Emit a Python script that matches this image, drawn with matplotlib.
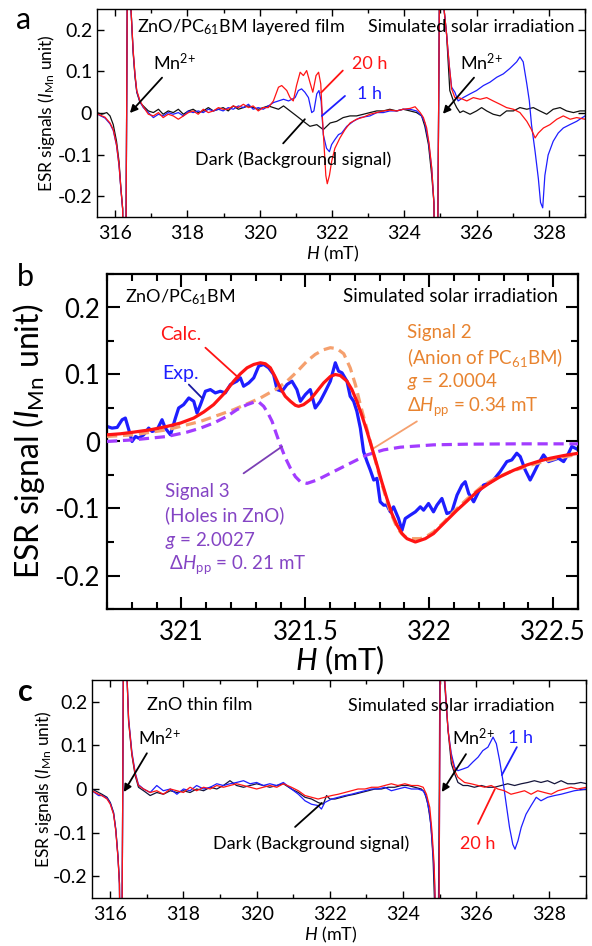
import numpy as np
import matplotlib
matplotlib.use('Agg')
import matplotlib.pyplot as plt
from matplotlib.ticker import MultipleLocator, FuncFormatter

plt.rcParams['font.family'] = ['Lato', 'DejaVu Sans']
plt.rcParams['mathtext.fontset'] = 'custom'
plt.rcParams['mathtext.rm'] = 'Lato'
plt.rcParams['mathtext.it'] = 'Lato:italic'
plt.rcParams['mathtext.bf'] = 'Lato:bold'
plt.rcParams['axes.unicode_minus'] = False

# ---------------- Panel a data (ZnO/PC61BM layered film) ----------------
a_20h_H = [315.50, 315.58, 315.72, 315.86, 315.95, 316.04, 316.11, 316.16, 316.21, 316.24, 316.29, 316.32, 316.35, 316.41, 316.44, 316.50, 316.55, 316.60, 316.69, 316.78,
           316.92, 317.06, 317.20, 317.33, 317.47, 317.61, 317.75, 317.89, 318.03, 318.16, 318.30, 318.44, 318.58, 318.72, 318.86, 318.99, 319.13, 319.27, 319.41, 319.55,
           319.69, 319.82, 319.96, 320.10, 320.24, 320.38, 320.52, 320.61, 320.75, 320.84, 320.93, 321.02, 321.12, 321.21, 321.30, 321.39, 321.47, 321.56, 321.63, 321.69,
           321.73, 321.78, 321.83, 321.87, 321.93, 321.99, 322.08, 322.22, 322.36, 322.50, 322.68, 322.87, 323.05, 323.24, 323.42, 323.60, 323.79, 323.97, 324.16, 324.30,
           324.44, 324.53, 324.62, 324.69, 324.76, 324.82, 324.86, 324.91, 324.95, 324.99, 325.06, 325.10, 325.17, 325.25, 325.31, 325.40, 325.54, 325.73, 325.91, 326.10,
           326.28, 326.46, 326.65, 326.83, 327.02, 327.20, 327.39, 327.52, 327.62, 327.71, 327.85, 328.03, 328.22, 328.40, 328.59, 328.77, 329.00]
a_20h_v = [-0.002, -0.005, -0.010, -0.024, -0.040, -0.076, -0.125, -0.180, -0.230, -0.50, -0.50, 0.00, 0.50, 0.50, 0.25, 0.151, 0.094, 0.054, 0.029, 0.015,
           -0.003, -0.007, 0.001, -0.011, -0.003, -0.007, -0.015, -0.007, 0.001, 0.005, -0.003, 0.009, 0.001, 0.005, 0.013, 0.009, 0.009, 0.017, 0.013, 0.021,
           0.013, 0.017, 0.005, 0.013, 0.013, 0.029, 0.062, 0.066, 0.054, 0.037, 0.029, 0.066, 0.098, 0.090, 0.102, 0.074, 0.050, 0.090, 0.098, 0.070,
           -0.003, -0.076, -0.150, -0.170, -0.150, -0.117, -0.085, -0.060, -0.040, -0.024, -0.015, -0.010, -0.003, 0.001, 0.005, 0.007, 0.005, 0.009, 0.011, 0.015,
           0.001, -0.011, -0.036, -0.076, -0.133, -0.215, -0.50, -0.50, 0.00, 0.50, 0.50, 0.25, 0.190, 0.110, 0.058, 0.037, 0.036, 0.029, 0.037, 0.033,
           0.037, 0.029, 0.021, 0.013, 0.009, 0.001, -0.020, -0.040, -0.060, -0.048, -0.036, -0.028, -0.015, -0.007, -0.015, -0.011, -0.015]

a_1h_H = [315.50, 315.58, 315.72, 315.86, 315.95, 316.04, 316.11, 316.16, 316.21, 316.24, 316.29, 316.32, 316.35, 316.41, 316.44, 316.50, 316.55, 316.60, 316.69, 316.78,
          316.92, 317.06, 317.20, 317.33, 317.47, 317.61, 317.75, 317.89, 318.03, 318.16, 318.30, 318.44, 318.58, 318.72, 318.86, 318.99, 319.13, 319.27, 319.41, 319.55,
          319.69, 319.82, 319.96, 320.10, 320.24, 320.38, 320.52, 320.66, 320.80,
          320.98, 321.07, 321.16, 321.25, 321.35, 321.44, 321.50, 321.58, 321.64, 321.70, 321.76, 321.85, 321.93, 321.99, 322.08, 322.18, 322.27, 322.41, 322.59, 322.78,
          323.05, 323.24, 323.42, 323.60, 323.79, 323.97, 324.16, 324.34, 324.48, 324.57, 324.67, 324.76, 324.82, 324.86, 324.91, 324.95, 324.99, 325.06, 325.10,
          325.17, 325.25, 325.31, 325.40, 325.49, 325.63, 325.82, 326.00, 326.19, 326.37, 326.56, 326.74, 326.92, 327.11, 327.20, 327.29, 327.39, 327.46, 327.52, 327.62,
          327.71, 327.77, 327.83, 327.89, 327.98, 328.12, 328.26, 328.40, 328.58, 328.77, 329.00]
a_1h_v = [-0.002, -0.006, -0.012, -0.026, -0.042, -0.078, -0.127, -0.182, -0.232, -0.50, -0.50, 0.00, 0.50, 0.50, 0.25, 0.148, 0.092, 0.052, 0.027, 0.013,
          0.001, -0.011, -0.003, -0.007, 0.001, -0.003, 0.001, -0.007, 0.005, 0.001, 0.005, 0.001, 0.009, 0.005, 0.009, 0.005, 0.013, 0.009, 0.017, 0.013,
          0.021, 0.009, 0.013, 0.009, 0.017, 0.025, 0.029, 0.033, 0.029,
          0.037, 0.054, 0.058, 0.050, 0.037, 0.001, 0.005, 0.046, 0.054, 0.029, -0.052, -0.085, -0.093, -0.076, -0.064, -0.052, -0.048, -0.032, -0.020, -0.011,
          -0.007, 0.001, 0.001, 0.005, 0.005, 0.009, 0.009, 0.005, -0.007, -0.024, -0.068, -0.133, -0.215, -0.50, -0.50, 0.00, 0.50, 0.50, 0.25,
          0.190, 0.110, 0.062, 0.050, 0.029, 0.037, 0.046, 0.054, 0.066, 0.074, 0.086, 0.094, 0.107, 0.123, 0.135, 0.123, 0.070, 0.029, -0.028, -0.093,
          -0.158, -0.215, -0.228, -0.150, -0.101, -0.068, -0.048, -0.036, -0.028, -0.020, -0.007]

a_dark_H = [315.50, 315.63, 315.77, 315.86, 315.95, 316.04, 316.11, 316.16, 316.21, 316.24, 316.29, 316.32, 316.35, 316.41, 316.44, 316.50, 316.55, 316.60, 316.69, 316.78,
            316.92, 317.06, 317.20, 317.33, 317.47, 317.61, 317.75, 317.89, 318.03, 318.16, 318.30, 318.44, 318.58, 318.72, 318.86, 318.99, 319.13, 319.27, 319.41, 319.55,
            319.69, 319.82, 319.96, 320.10, 320.24, 320.38, 320.52, 320.66,
            320.84, 321.02, 321.21, 321.39, 321.58, 321.76, 321.95, 322.13, 322.31, 322.50, 322.68, 322.87, 323.05, 323.24, 323.42, 323.60, 323.79, 323.97, 324.16, 324.34,
            324.48, 324.57, 324.67, 324.76, 324.82, 324.86, 324.91, 324.95, 324.99, 325.06, 325.10,
            325.17, 325.26, 325.36, 325.45, 325.54, 325.63, 325.82, 326.00, 326.14, 326.28, 326.46, 326.65, 326.83, 327.02, 327.20, 327.39, 327.57, 327.75, 327.94, 328.12,
            328.31, 328.49, 328.68, 328.86, 329.00]
a_dark_v = [0.001, -0.003, 0.001, -0.007, -0.028, -0.068, -0.117, -0.180, -0.230, -0.50, -0.50, 0.00, 0.50, 0.50, 0.25, 0.145, 0.088, 0.050, 0.025, 0.017,
            0.005, 0.001, 0.009, -0.003, 0.005, 0.001, 0.009, -0.003, 0.005, 0.009, 0.001, 0.005, 0.013, 0.005, 0.009, 0.013, 0.005, 0.017, 0.009, 0.013,
            0.017, 0.013, 0.009, 0.013, 0.017, 0.013, 0.009, 0.017,
            0.005, -0.007, -0.020, -0.032, -0.028, -0.040, -0.024, -0.020, -0.011, -0.007, -0.007, -0.003, 0.001, 0.005, 0.005, 0.009, 0.005, 0.009, 0.005, 0.001,
            -0.007, -0.032, -0.076, -0.150, -0.215, -0.50, -0.50, 0.00, 0.50, 0.50, 0.25,
            0.190, 0.054, 0.029, 0.013, 0.001, 0.005, -0.003, 0.005, 0.013, 0.005, -0.003, -0.007, 0.005, 0.005, 0.013, 0.009, 0.013, 0.005, -0.003, 0.009,
            0.013, 0.005, 0.001, 0.005, 0.005]

# ---------------- Panel b data (zoom, fit) ----------------
b_exp_H = [320.700, 320.720, 320.741, 320.761, 320.774, 320.788, 320.801, 320.815, 320.828, 320.848,
           320.868, 320.882, 320.902, 320.922, 320.935, 320.956, 320.976, 320.989, 321.009, 321.030,
           321.050, 321.063, 321.077, 321.097, 321.117, 321.137, 321.157, 321.177, 321.198, 321.224,
           321.238, 321.251, 321.272, 321.292, 321.312, 321.332, 321.352, 321.372, 321.386, 321.406,
           321.426, 321.446, 321.466, 321.480, 321.500, 321.520, 321.540, 321.560, 321.581, 321.601,
           321.621, 321.634, 321.648, 321.668, 321.681, 321.695, 321.708, 321.722, 321.735, 321.749,
           321.762, 321.776, 321.789, 321.802, 321.816, 321.829, 321.843, 321.856, 321.876, 321.890,
           321.903, 321.923, 321.944, 321.964, 321.977, 321.997, 322.017, 322.031, 322.051, 322.071,
           322.091, 322.112, 322.132, 322.145, 322.159, 322.179, 322.199, 322.219, 322.239, 322.259,
           322.286, 322.313, 322.333, 322.353, 322.367, 322.387, 322.407, 322.421, 322.441, 322.461,
           322.481, 322.501, 322.521, 322.542, 322.562, 322.575, 322.589, 322.602]
b_exp_v = [0.0225, 0.020, 0.021, 0.0325, 0.035, 0.0175, 0.000, 0.0075, 0.005, 0.010,
           0.020, 0.015, 0.0175, 0.0325, 0.020, 0.010, 0.035, 0.050, 0.055, 0.065,
           0.060, 0.0425, 0.055, 0.075, 0.0775, 0.0725, 0.075, 0.0725, 0.085, 0.090,
           0.095, 0.0825, 0.0875, 0.095, 0.1125, 0.115, 0.110, 0.100, 0.0775, 0.075,
           0.085, 0.090, 0.0775, 0.060, 0.070, 0.0775, 0.050, 0.060, 0.075, 0.090,
           0.1175, 0.105, 0.1025, 0.090, 0.0675, 0.060, 0.045, 0.020, -0.015, -0.030,
           -0.0425, -0.0575, -0.055, -0.090, -0.095, -0.095, -0.105, -0.0975, -0.115, -0.1325,
           -0.115, -0.110, -0.105, -0.0975, -0.1025, -0.0925, -0.105, -0.095, -0.085, -0.1075,
           -0.105, -0.080, -0.065, -0.060, -0.0775, -0.090, -0.075, -0.065, -0.0625, -0.0575,
           -0.045, -0.030, -0.0275, -0.0175, -0.0225, -0.0425, -0.0575, -0.0475, -0.0325, -0.020,
           -0.030, -0.0275, -0.025, -0.030, -0.0175, -0.0075, -0.010, -0.0125]

b_calc_H = [320.700, 320.754, 320.808, 320.875, 320.942, 320.996, 321.050, 321.090, 321.130, 321.171,
            321.211, 321.238, 321.265, 321.292, 321.319, 321.339, 321.359, 321.379, 321.399, 321.419,
            321.440, 321.460, 321.473, 321.493, 321.520, 321.547, 321.574, 321.601, 321.621, 321.641,
            321.668, 321.688, 321.708, 321.728, 321.749, 321.769, 321.789, 321.809, 321.829, 321.849,
            321.870, 321.890, 321.910, 321.944, 321.984, 322.017, 322.044, 322.078, 322.112, 322.152,
            322.192, 322.239, 322.286, 322.340, 322.394, 322.441, 322.488, 322.542, 322.602]
b_calc_v = [0.010, 0.0115, 0.014, 0.0175, 0.0225, 0.0275, 0.035, 0.044, 0.055, 0.071,
            0.090, 0.101, 0.110, 0.115, 0.1175, 0.116, 0.110, 0.096, 0.080, 0.0675,
            0.060, 0.054, 0.0525, 0.055, 0.0625, 0.075, 0.0875, 0.097, 0.100, 0.0985,
            0.090, 0.0775, 0.060, 0.039, 0.015, -0.010, -0.035, -0.061, -0.085, -0.1075,
            -0.125, -0.1375, -0.145, -0.150, -0.145, -0.1375, -0.1275, -0.115, -0.1025, -0.089,
            -0.075, -0.063, -0.0525, -0.043, -0.035, -0.0295, -0.025, -0.021, -0.0175]

b_sig2_H = [320.700, 320.808, 320.942, 321.077, 321.211, 321.319, 321.386, 321.426, 321.466, 321.507,
            321.540, 321.574, 321.601, 321.628, 321.655, 321.681, 321.702, 321.722, 321.742, 321.762,
            321.782, 321.802, 321.823, 321.843, 321.863, 321.883, 321.903, 321.923, 321.964, 321.991,
            322.017, 322.058, 322.098, 322.152, 322.219, 322.273, 322.327, 322.421, 322.515, 322.602]
b_sig2_v = [0.0075, 0.010, 0.0175, 0.030, 0.0475, 0.065, 0.079, 0.090, 0.104, 0.120,
            0.130, 0.137, 0.140, 0.1385, 0.131, 0.110, 0.085, 0.055, 0.0275, 0.000,
            -0.0275, -0.055, -0.081, -0.105, -0.1225, -0.135, -0.1425, -0.145, -0.145, -0.141,
            -0.135, -0.121, -0.105, -0.086, -0.065, -0.054, -0.045, -0.034, -0.025, -0.019]

b_sig3_H = [320.700, 320.808, 320.942, 321.023, 321.077, 321.130, 321.184, 321.224, 321.265, 321.292,
            321.312, 321.332, 321.349, 321.366, 321.382, 321.399, 321.419, 321.440, 321.460, 321.480,
            321.507, 321.547, 321.614, 321.681, 321.749, 321.816, 321.883, 322.017, 322.152, 322.353, 322.602]
b_sig3_v = [0.000, 0.0025, 0.0075, 0.014, 0.020, 0.0275, 0.0375, 0.0475, 0.055, 0.0585,
            0.059, 0.0525, 0.0425, 0.030, 0.0125, -0.005, -0.024, -0.040, -0.0525, -0.060,
            -0.0625, -0.0575, -0.045, -0.0325, -0.020, -0.0125, -0.0085, -0.005, -0.004, -0.0035, -0.0035]

# ---------------- Panel c data (ZnO thin film) ----------------
c_20h_H = [315.50, 315.68, 315.77, 315.91, 316.00, 316.09, 316.15, 316.21, 316.25, 316.28, 316.31, 316.34, 316.37, 316.43, 316.46, 316.50, 316.59, 316.68, 316.77, 316.91,
           317.09, 317.27, 317.45, 317.64, 317.82, 318.00, 318.18, 318.36, 318.55, 318.73, 318.91, 319.09, 319.27, 319.45, 319.64, 319.82, 320.00, 320.18, 320.36, 320.55, 320.73,
           320.95, 321.14, 321.32, 321.50, 321.68, 321.86, 322.05, 322.23, 322.41, 322.59, 322.77, 322.96, 323.14, 323.32, 323.50, 323.68, 323.86, 324.05, 324.23, 324.41,
           324.55, 324.64, 324.73, 324.79, 324.85, 324.88, 324.92, 324.97, 325.00, 325.03, 325.10, 325.14,
           325.23, 325.32, 325.41, 325.50, 325.68, 325.86, 326.05, 326.23, 326.41, 326.59, 326.77, 326.95, 327.14, 327.32, 327.50, 327.68, 327.86, 328.05, 328.23, 328.41,
           328.59, 328.77, 329.02]
c_20h_v = [-0.004, -0.012, -0.015, -0.023, -0.035, -0.058, -0.096, -0.158, -0.219, -0.50, -0.50, 0.00, 0.50, 0.50, 0.25, 0.158, 0.081, 0.035, 0.008, 0.000,
           -0.008, -0.004, -0.012, 0.000, -0.004, -0.008, 0.004, -0.004, 0.004, 0.000, 0.008, 0.004, 0.008, 0.012, 0.008, 0.004, 0.000, 0.004, 0.008, 0.004, 0.012,
           0.004, -0.004, -0.015, -0.019, -0.023, -0.019, -0.015, -0.012, -0.008, -0.004, 0.000, 0.000, 0.004, 0.004, 0.008, 0.012, 0.008, 0.012, 0.008, 0.008,
           0.004, -0.012, -0.042, -0.096, -0.173, -0.258, -0.50, -0.50, 0.00, 0.50, 0.50, 0.25,
           0.135, 0.073, 0.042, 0.027, 0.015, 0.012, 0.008, 0.004, 0.008, 0.000, -0.004, -0.012, -0.008, -0.004, -0.012, -0.004, -0.008, -0.012, -0.004, 0.000,
           0.004, 0.000, 0.004]

c_1h_H = [315.50, 315.68, 315.77, 315.91, 316.00, 316.09, 316.15, 316.21, 316.25, 316.28, 316.31, 316.34, 316.37, 316.43, 316.46, 316.50, 316.59, 316.68, 316.77, 316.91,
          317.09, 317.27, 317.45, 317.64, 317.82, 318.00, 318.18, 318.36, 318.55, 318.73, 318.91, 319.09, 319.27, 319.45, 319.64, 319.82, 320.00, 320.18, 320.36, 320.55, 320.73,
          320.95, 321.14, 321.32, 321.50, 321.68, 321.77, 321.86, 322.05, 322.23, 322.41, 322.59, 322.77, 322.96, 323.14, 323.32, 323.50, 323.68, 323.86, 324.05, 324.23,
          324.41, 324.55, 324.64, 324.73, 324.79, 324.85, 324.88, 324.92, 324.97, 325.00, 325.03, 325.10, 325.14,
          325.23, 325.32, 325.41, 325.50, 325.64, 325.77, 325.91, 326.05, 326.18, 326.32, 326.46, 326.55, 326.64, 326.73, 326.82, 326.91, 327.00, 327.06, 327.14, 327.23,
          327.36, 327.50, 327.64, 327.77, 327.95, 328.14, 328.32, 328.50, 328.68, 329.02]
c_1h_v = [-0.004, -0.015, -0.015, -0.021, -0.033, -0.056, -0.094, -0.156, -0.217, -0.50, -0.50, 0.00, 0.50, 0.50, 0.25, 0.162, 0.085, 0.038, 0.010, 0.000,
          -0.008, 0.008, -0.004, 0.000, -0.012, 0.000, -0.004, 0.008, 0.000, 0.004, 0.012, 0.008, 0.012, 0.015, 0.019, 0.012, 0.015, 0.008, 0.012, 0.008, 0.015,
          0.000, -0.012, -0.027, -0.035, -0.038, -0.046, -0.031, -0.023, -0.019, -0.015, -0.012, -0.008, -0.004, 0.000, 0.000, 0.004, -0.004, 0.000, 0.004, 0.000,
          0.000, -0.004, -0.019, -0.058, -0.112, -0.188, -0.258, -0.50, -0.50, 0.00, 0.50, 0.50, 0.25,
          0.135, 0.081, 0.050, 0.042, 0.046, 0.050, 0.062, 0.073, 0.088, 0.096, 0.119, 0.104, 0.065, 0.019, -0.035, -0.088, -0.127, -0.138, -0.119, -0.088,
          -0.058, -0.038, -0.019, -0.027, -0.019, -0.015, -0.012, -0.008, -0.004, 0.000]

c_dark_H = [315.50, 315.68, 315.77, 315.91, 316.00, 316.09, 316.15, 316.21, 316.25, 316.28, 316.31, 316.34, 316.37, 316.43, 316.46, 316.50, 316.59, 316.68, 316.77, 316.91,
            317.09, 317.27, 317.45, 317.64, 317.82, 318.00, 318.18, 318.36, 318.55, 318.73, 318.91, 319.09, 319.27, 319.45, 319.64, 319.82, 320.00, 320.18, 320.36, 320.55, 320.73,
            320.95, 321.14, 321.32, 321.50, 321.68, 321.82, 321.91, 322.00, 322.14, 322.32, 322.50, 322.68, 322.86, 323.05, 323.23, 323.41, 323.59, 323.77, 323.95, 324.14,
            324.32, 324.50, 324.59, 324.68, 324.76, 324.82, 324.86, 324.90, 324.95, 324.99, 325.02, 325.09, 325.13,
            325.23, 325.32, 325.41, 325.50, 325.64, 325.77, 325.95, 326.14, 326.32, 326.50, 326.68, 326.86, 327.05, 327.23, 327.41, 327.59, 327.77, 327.95, 328.14, 328.32,
            328.50, 328.68, 328.86, 329.02]
c_dark_v = [0.000, -0.008, -0.012, -0.019, -0.031, -0.054, -0.092, -0.154, -0.215, -0.50, -0.50, 0.00, 0.50, 0.50, 0.25, 0.155, 0.078, 0.031, 0.004, -0.004,
            -0.015, -0.008, -0.012, -0.004, -0.008, -0.004, -0.008, 0.000, -0.004, 0.004, 0.000, 0.008, 0.019, 0.008, 0.004, 0.008, 0.012, 0.008, 0.004, 0.008, 0.012,
            0.000, -0.008, -0.019, -0.023, -0.031, -0.035, -0.015, -0.023, -0.023, -0.019, -0.015, -0.012, -0.008, -0.004, 0.000, 0.000, 0.004, 0.004, 0.008, 0.008,
            0.004, 0.000, -0.008, -0.035, -0.081, -0.158, -0.258, -0.50, -0.50, 0.00, 0.50, 0.50, 0.25,
            0.135, 0.058, 0.035, 0.015, 0.008, 0.008, 0.004, 0.008, 0.004, 0.004, 0.008, 0.012, 0.008, 0.012, 0.015, 0.019, 0.015, 0.019, 0.012, 0.019,
            0.012, 0.012, 0.015, 0.012]

# ---------------- colours ----------------
RED = '#ff1414'
BLUE = '#1e1eff'
BLACK = '#111111'
ORANGE_TXT = '#e8832f'
ORANGE_LN = '#f5a06e'
PURPLE_TXT = '#8444c4'
PURPLE_LN = '#a23cff'

MN = r'Mn$^{2{+}}$'

def fmt_y(v, p):
    if abs(v) < 1e-9:
        return '0'
    return '%.1f' % v

def fmt_x(v, p):
    return '%g' % round(v, 3)

W, H = 592, 946
fig = plt.figure(figsize=(W / 100, H / 100), dpi=100)

def box(l, r, t, b):
    return [l / W, 1 - b / H, (r - l) / W, (b - t) / H]

def style_small(ax):
    ax.set_xlim(315.5, 329.0)
    ax.set_ylim(-0.25, 0.25)
    ax.xaxis.set_major_locator(MultipleLocator(2))
    ax.xaxis.set_minor_locator(MultipleLocator(1))
    ax.yaxis.set_major_locator(MultipleLocator(0.1))
    ax.yaxis.set_major_formatter(FuncFormatter(fmt_y))
    ax.xaxis.set_major_formatter(FuncFormatter(fmt_x))
    ax.tick_params(which='both', direction='in', top=True, right=True, width=1.0, labelsize=14)
    ax.tick_params(which='major', length=5)
    ax.tick_params(which='minor', length=3)
    ax.tick_params(axis='x', pad=6)
    ax.tick_params(axis='y', pad=3.5)
    for s in ax.spines.values():
        s.set_linewidth(1.0)
    ax.set_xlabel(r'$\mathit{H}$ (mT)', fontsize=13)
    ax.set_ylabel(r'ESR signals ($\mathit{I}_{\mathrm{Mn}}$ unit)', fontsize=12.5)

def leader(ax, p0, p1, color, lw=1.3, arrow=False):
    if arrow:
        ax.annotate('', xy=p1, xytext=p0,
                    arrowprops=dict(arrowstyle='-|>', color=color, lw=lw, mutation_scale=11, shrinkA=0, shrinkB=0))
    else:
        ax.annotate('', xy=p1, xytext=p0,
                    arrowprops=dict(arrowstyle='-', color=color, lw=lw, shrinkA=0, shrinkB=0))

# ================= Panel a =================
axa = fig.add_axes(box(97, 585, 9, 217))
axa.plot(a_dark_H, a_dark_v, color=BLACK, lw=0.9)
axa.plot(a_1h_H, a_1h_v, color=BLUE, lw=0.9)
axa.plot(a_20h_H, a_20h_v, color=RED, lw=0.9)
style_small(axa)
axa.xaxis.set_label_coords(0.484, -0.13)
axa.yaxis.set_label_coords(-0.082, 0.5)
axa.text(316.61, 0.207, r'ZnO/PC$_{61}$BM layered film', fontsize=13, ha='left', va='center')
axa.text(328.72, 0.207, 'Simulated solar irradiation', fontsize=13, ha='right', va='center')
axa.text(317.05, 0.122, MN, fontsize=13, ha='left', va='center')
leader(axa, (317.30, 0.085), (316.41, 0.0), 'k', arrow=True)
axa.text(325.54, 0.122, MN, fontsize=13, ha='left', va='center')
leader(axa, (325.93, 0.085), (325.07, -0.002), 'k', arrow=True)
axa.text(322.55, 0.117, '20 h', fontsize=13, color=RED, ha='left', va='center')
leader(axa, (322.30, 0.102), (321.70, 0.049), RED)
axa.text(322.69, 0.046, '1 h', fontsize=13, color=BLUE, ha='left', va='center')
leader(axa, (322.36, 0.041), (321.72, -0.007), BLUE)
axa.text(318.21, -0.113, 'Dark (Background signal)', fontsize=13, ha='left', va='center')
leader(axa, (320.65, -0.073), (321.25, -0.015), 'k')

# ================= Panel b =================
axb = fig.add_axes(box(107, 578, 274, 609))
axb.plot(b_exp_H, b_exp_v, color=BLUE, lw=2.3, zorder=2)
axb.plot(b_sig2_H, b_sig2_v, color=ORANGE_LN, lw=2.3, dashes=(3.2, 1.8), zorder=3)
axb.plot(b_sig3_H, b_sig3_v, color=PURPLE_LN, lw=2.3, dashes=(3.2, 1.8), zorder=3)
axb.plot(b_calc_H, b_calc_v, color=RED, lw=2.3, zorder=4)
axb.set_xlim(320.7, 322.6)
axb.set_ylim(-0.25, 0.25)
axb.xaxis.set_major_locator(MultipleLocator(0.5))
axb.xaxis.set_minor_locator(MultipleLocator(0.1))
axb.yaxis.set_major_locator(MultipleLocator(0.1))
axb.yaxis.set_minor_locator(MultipleLocator(0.05))
axb.yaxis.set_major_formatter(FuncFormatter(fmt_y))
axb.xaxis.set_major_formatter(FuncFormatter(fmt_x))
axb.tick_params(which='both', direction='in', top=True, right=True, width=1.5, labelsize=18.5)
axb.tick_params(which='major', length=9)
axb.tick_params(which='minor', length=5)
axb.tick_params(axis='x', pad=8)
axb.tick_params(axis='y', pad=5)
for s in axb.spines.values():
    s.set_linewidth(1.6)
axb.set_xlabel(r'$\mathit{H}$ (mT)', fontsize=22)
axb.set_ylabel(r'ESR signal ($\mathit{I}_{\mathrm{Mn}}$ unit)', fontsize=23)
axb.xaxis.set_label_coords(0.495, -0.103)
axb.yaxis.set_label_coords(-0.127, 0.5)
axb.text(320.774, 0.215, r'ZnO/PC$_{61}$BM', fontsize=13, ha='left', va='center')
axb.text(322.52, 0.216, 'Simulated solar irradiation', fontsize=13.5, ha='right', va='center')
axb.text(320.915, 0.160, 'Calc.', fontsize=14, color=RED, ha='left', va='center')
leader(axb, (321.097, 0.140), (321.231, 0.095), RED, lw=1.3)
axb.text(320.922, 0.101, 'Exp.', fontsize=14, color=BLUE, ha='left', va='center')
leader(axb, (321.030, 0.085), (321.083, 0.065), '#1a1aa0', lw=1.3)
sig2 = ['Signal 2', r'(Anion of PC$_{61}$BM)', r'$\mathit{g}$ = 2.0004', r'Δ$\mathit{H}_{\mathrm{pp}}$ = 0.34 mT']
for i, s in enumerate(sig2):
    axb.text(321.91, 0.1625 - 0.0367 * i, s, fontsize=13.5, color=ORANGE_TXT, ha='left', va='center')
leader(axb, (321.950, 0.030), (321.776, -0.010), ORANGE_LN, lw=1.3)
sig3 = ['Signal 3', '(Holes in ZnO)', r'$\mathit{g}$ = 2.0027', r' Δ$\mathit{H}_{\mathrm{pp}}$ = 0. 21 mT']
for i, s in enumerate(sig3):
    axb.text(320.935, -0.074 - 0.0367 * i, s, fontsize=13.5, color=PURPLE_TXT, ha='left', va='center')
leader(axb, (321.251, -0.0475), (321.406, -0.0075), '#7b3fb5', lw=1.3)

# ================= Panel c =================
axc = fig.add_axes(box(92, 586, 680, 898))
axc.plot(c_dark_H, c_dark_v, color='#14143a', lw=0.9)
axc.plot(c_1h_H, c_1h_v, color=BLUE, lw=0.9)
axc.plot(c_20h_H, c_20h_v, color=RED, lw=0.9)
style_small(axc)
axc.xaxis.set_label_coords(0.484, -0.124)
axc.yaxis.set_label_coords(-0.077, 0.5)
axc.text(317.0, 0.192, 'ZnO thin film', fontsize=13, ha='left', va='center')
axc.text(328.15, 0.19, 'Simulated solar irradiation', fontsize=13, ha='right', va='center')
axc.text(316.76, 0.117, MN, fontsize=13, ha='left', va='center')
leader(axc, (317.0, 0.082), (316.37, -0.007), 'k', arrow=True)
axc.text(325.34, 0.117, MN, fontsize=13, ha='left', va='center')
leader(axc, (325.72, 0.080), (325.06, -0.007), 'k', arrow=True)
axc.text(326.87, 0.117, '1 h', fontsize=13, color=BLUE, ha='left', va='center')
leader(axc, (327.11, 0.096), (326.70, 0.032), BLUE)
axc.text(325.55, -0.126, '20 h', fontsize=13, color=RED, ha='left', va='center')
leader(axc, (326.05, -0.080), (326.51, 0.0), RED)
axc.text(318.81, -0.126, 'Dark (Background signal)', fontsize=13, ha='left', va='center')
leader(axc, (321.05, -0.087), (321.78, -0.032), 'k')

# panel letters
fig.text(24 / W, 1 - 20 / H, 'a', fontsize=22, ha='center', va='center')
fig.text(25 / W, 1 - 277 / H, 'b', fontsize=22, ha='center', va='center')
fig.text(25 / W, 1 - 692 / H, 'c', fontsize=22, ha='center', va='center', fontweight='bold')

fig.savefig('out.png', dpi=100)
